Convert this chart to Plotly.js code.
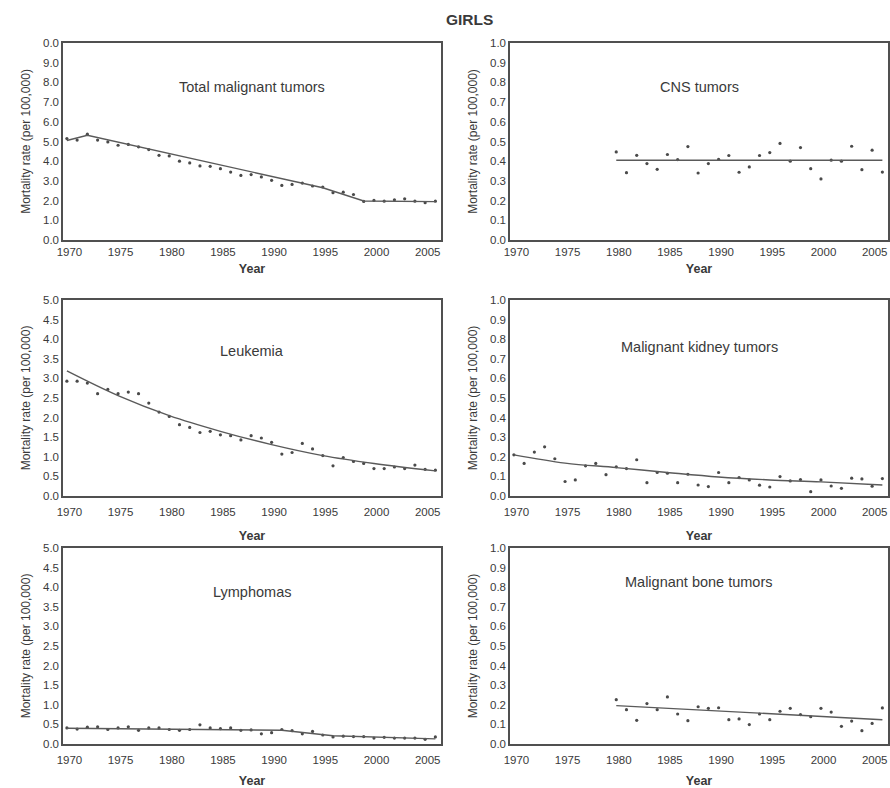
<!DOCTYPE html>
<html>
<head>
<meta charset="utf-8">
<script src="https://cdn.plot.ly/plotly-3.0.1.min.js"></script>
<style>html,body{margin:0;padding:0;background:#fff;}#chart{width:890px;height:788px;}</style>
</head>
<body>
<div id="chart"></div>
<script>
// ---------- data ----------
const years1970 = [1970,1971,1972,1973,1974,1975,1976,1977,1978,1979,1980,1981,1982,1983,1984,1985,1986,1987,1988,1989,1990,1991,1992,1993,1994,1995,1996,1997,1998,1999,2000,2001,2002,2003,2004,2005,2006];
const years1980 = [1980,1981,1982,1983,1984,1985,1986,1987,1988,1989,1990,1991,1992,1993,1994,1995,1996,1997,1998,1999,2000,2001,2002,2003,2004,2005,2006];

const totalRates = [5.15,5.07,5.37,5.07,4.98,4.81,4.85,4.73,4.59,4.30,4.27,4.00,3.91,3.76,3.74,3.62,3.45,3.28,3.32,3.20,3.03,2.77,2.82,2.89,2.74,2.69,2.40,2.43,2.31,1.96,2.01,1.97,2.04,2.09,1.97,1.89,1.97];
const totalFitYears = [1970,1972,1995,1999,2006];
const totalFit = [5.05,5.32,2.65,1.98,1.95];

const cnsRates = [0.447,0.342,0.430,0.388,0.359,0.434,0.408,0.474,0.340,0.388,0.410,0.429,0.344,0.371,0.429,0.444,0.490,0.400,0.469,0.362,0.310,0.405,0.400,0.476,0.357,0.456,0.345];
const cnsFitYears = [1980,2006];
const cnsFit = [0.405,0.405];

const leukRates = [2.93,2.93,2.88,2.61,2.72,2.61,2.65,2.61,2.37,2.14,2.03,1.82,1.75,1.62,1.65,1.56,1.54,1.43,1.54,1.48,1.37,1.07,1.11,1.34,1.20,1.03,0.77,0.98,0.88,0.83,0.70,0.70,0.74,0.70,0.79,0.68,0.66];
const leukFitYears = [1970,1975,1980,1985,1990,1995,2000,2006];
const leukFit = [3.19,2.56,2.05,1.65,1.31,1.03,0.83,0.64];

const kidneyRates = [0.210,0.166,0.224,0.251,0.190,0.074,0.082,0.154,0.166,0.109,0.149,0.140,0.185,0.068,0.120,0.116,0.068,0.111,0.056,0.048,0.120,0.068,0.094,0.082,0.055,0.046,0.099,0.077,0.084,0.022,0.082,0.051,0.039,0.091,0.087,0.050,0.089];
const kidneyFitYears = [1970,1975,1980,1985,1990,1995,2000,2006];
const kidneyFit = [0.210,0.168,0.145,0.120,0.097,0.082,0.072,0.056];

const lymphRates = [0.41,0.38,0.43,0.44,0.37,0.41,0.44,0.35,0.41,0.41,0.37,0.35,0.37,0.49,0.41,0.39,0.41,0.35,0.36,0.26,0.29,0.37,0.34,0.26,0.32,0.23,0.18,0.20,0.19,0.19,0.15,0.17,0.15,0.15,0.15,0.12,0.18];
const lymphFitYears = [1970,1991,1996,2006];
const lymphFit = [0.40,0.35,0.21,0.13];

const boneRates = [0.226,0.175,0.121,0.206,0.175,0.240,0.153,0.119,0.190,0.182,0.185,0.124,0.128,0.099,0.153,0.124,0.167,0.182,0.150,0.139,0.182,0.163,0.090,0.117,0.068,0.105,0.184];
const boneFitYears = [1980,2006];
const boneFit = [0.196,0.124];

const panelTitles = ["Total malignant tumors","CNS tumors","Leukemia","Malignant kidney tumors","Lymphomas","Malignant bone tumors"];
const xTickLabels = ["1970","1975","1980","1985","1990","1995","2000","2005"];
const yTicks10 = [0,1,2,3,4,5,6,7,8,9,10];
const yTickText10 = ["0.0","1.0","2.0","3.0","4.0","5.0","6.0","7.0","8.0","9.0","0.0"];
const yTicks5 = [0,0.5,1,1.5,2,2.5,3,3.5,4,4.5,5];
const yTicks1 = [0,0.1,0.2,0.3,0.4,0.5,0.6,0.7,0.8,0.9,1.0];

// ---------- styling ----------
const FONT = "Liberation Sans, Arial, sans-serif";
const TXT = "#3a3a3a";
const FRAME = "#505050";
const DOT = "#4a4a4a";
const LINE = "#5a5a5a";

const panels = [
  {x: years1970, y: totalRates, fx: totalFitYears, fy: totalFit, yr:[0,10], tv: yTicks10, tt: yTickText10, shape:'linear', ty:0.776},
  {x: years1980, y: cnsRates, fx: cnsFitYears, fy: cnsFit, yr:[0,1], tv: yTicks1, tt: yTicks1.map(v=>v.toFixed(1)), shape:'linear', ty:0.776},
  {x: years1970, y: leukRates, fx: leukFitYears, fy: leukFit, yr:[0,5], tv: yTicks5, tt: yTicks5.map(v=>v.toFixed(1)), shape:'spline', ty:0.74},
  {x: years1970, y: kidneyRates, fx: kidneyFitYears, fy: kidneyFit, yr:[0,1], tv: yTicks1, tt: yTicks1.map(v=>v.toFixed(1)), shape:'spline', ty:0.76},
  {x: years1970, y: lymphRates, fx: lymphFitYears, fy: lymphFit, yr:[0,5], tv: yTicks5, tt: yTicks5.map(v=>v.toFixed(1)), shape:'linear', ty:0.776},
  {x: years1980, y: boneRates, fx: boneFitYears, fy: boneFit, yr:[0,1], tv: yTicks1, tt: yTicks1.map(v=>v.toFixed(1)), shape:'linear', ty:0.827}
];

const W = 890, H = 788;
const colPx = [[63,441],[510,888]];
const rowPx = [[43,240],[300,496],[548,744]];
const rowTickPad = [0, 4, 4];
const rowYearStandoff = [8, 15, 15];
const tickOffset = 0.25; // labels sit slightly right of the year marks in the original

const traces = [];
const layout = {
  width: W, height: H, autosize: false,
  margin: {l:0, r:0, t:0, b:0},
  paper_bgcolor: '#ffffff', plot_bgcolor: '#ffffff',
  showlegend: false,
  font: {family: FONT, color: TXT, size: 11},
  annotations: [
    {text: "<b>GIRLS</b>", xref:'paper', yref:'paper', x: 470/W, y: 1 - 19/H, showarrow:false, font:{size:15.5, color:TXT, family:FONT}, xanchor:'center', yanchor:'middle'}
  ]
};

panels.forEach((p, i) => {
  const col = i % 2, row = Math.floor(i / 2);
  const n = i + 1;
  const xa = n === 1 ? 'x' : 'x' + n;
  const ya = n === 1 ? 'y' : 'y' + n;
  traces.push({x: p.x, y: p.y, xaxis: xa, yaxis: ya, type:'scatter', mode:'markers',
    marker:{size:3.2, color:DOT}, hoverinfo:'skip'});
  traces.push({x: p.fx, y: p.fy, xaxis: xa, yaxis: ya, type:'scatter', mode:'lines',
    line:{color:LINE, width:1.4, shape:p.shape, smoothing:1.0}, hoverinfo:'skip'});
  const xk = n === 1 ? 'xaxis' : 'xaxis' + n;
  const yk = n === 1 ? 'yaxis' : 'yaxis' + n;
  layout[xk] = {
    domain: [colPx[col][0]/W, colPx[col][1]/W],
    anchor: ya, range: [1969.62, 2006.55],
    tickvals: xTickLabels.map(s => Number(s) + tickOffset), ticktext: xTickLabels,
    showgrid:false, zeroline:false, showline:true, mirror:true, linecolor:FRAME, linewidth:1.7,
    ticks: rowTickPad[row] ? 'outside' : '', ticklen: rowTickPad[row], tickcolor:'rgba(0,0,0,0)',
    tickfont:{size:11.5, color:TXT, family:FONT},
    title:{text:'<b>Year</b>', font:{size:12.5, color:TXT, family:FONT}, standoff: rowYearStandoff[row]},
    automargin:false, fixedrange:true
  };
  layout[yk] = {
    domain: [1 - rowPx[row][1]/H, 1 - rowPx[row][0]/H],
    anchor: xa, range: p.yr,
    tickvals: p.tv, ticktext: p.tt,
    showgrid:false, zeroline:false, showline:true, mirror:true, linecolor:FRAME, linewidth:1.7,
    ticks:'', tickfont:{size:11.5, color:TXT, family:FONT},
    title:{text:'Mortality rate (per 100,000)', font:{size:12, color:TXT, family:FONT}, standoff:10},
    automargin:false, fixedrange:true
  };
  layout.annotations.push({
    text: panelTitles[i], xref: xa + ' domain', yref: ya + ' domain',
    x: 0.5, y: p.ty, showarrow:false, xanchor:'center', yanchor:'middle',
    font:{size:14.5, color:TXT, family:FONT}
  });
});

Plotly.newPlot('chart', traces, layout, {staticPlot:true, displayModeBar:false});
</script>
</body>
</html>
